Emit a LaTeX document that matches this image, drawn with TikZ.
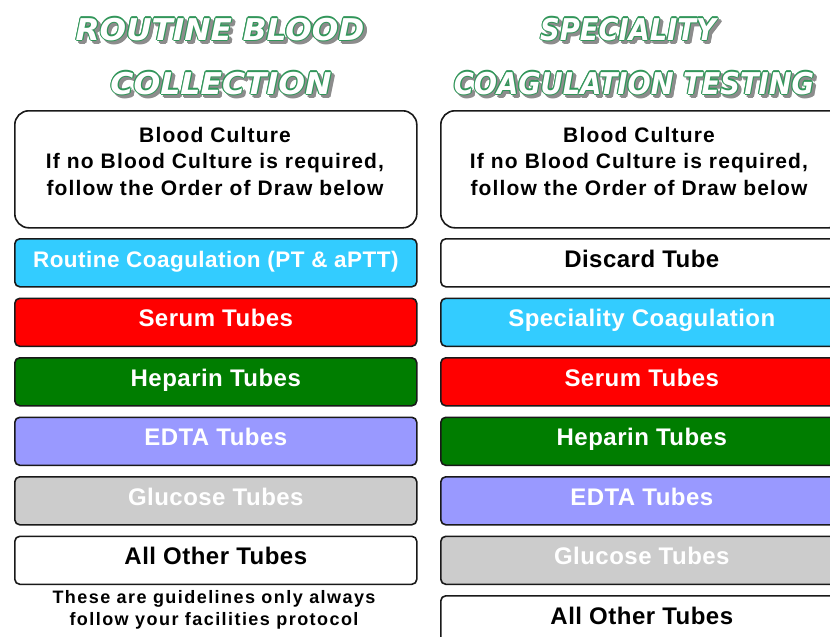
\documentclass[tikz,border=0pt]{standalone}
\usepackage{fontspec}
\usepackage{graphicx}
\usetikzlibrary{calc}
\setmainfont{Liberation Sans}
\newfontfamily\titlefam{DejaVu Sans}
\newfontfamily\tubefam{Liberation Sans}[LetterSpace=2]
\newfontfamily\bcfam{Liberation Sans}[LetterSpace=5.5]
\newfontfamily\notefam{Liberation Sans}[LetterSpace=8]
\definecolor{titlegreen}{RGB}{50,150,90}
\definecolor{shadowc}{RGB}{140,140,140}
\definecolor{ccyan}{RGB}{51,204,255}
\definecolor{cred}{RGB}{255,0,0}
\definecolor{cgreen}{RGB}{0,125,0}
\definecolor{cedta}{RGB}{153,153,255}
\definecolor{cgluc}{RGB}{204,204,204}
\definecolor{boxline}{RGB}{25,25,25}
\tikzset{
  ttl/.style={font=\titlefam\bfseries\itshape\fontsize{30}{36}\selectfont, inner sep=0pt, anchor=base},
  tube/.style={draw=boxline, line width=1.6pt, rounded corners=5pt, minimum width=402pt,
    minimum height=48pt, inner sep=0pt, anchor=north west,
    font=\tubefam\bfseries\fontsize{24}{28}\selectfont, text height=16pt, text depth=7pt},
  bcbox/.style={draw=boxline, line width=1.6pt, rounded corners=14pt, minimum width=402pt,
    minimum height=117pt, inner sep=0pt, anchor=north west, fill=white},
  bctext/.style={font=\bcfam\bfseries\fontsize{21}{26}\selectfont, inner sep=0pt, anchor=base},
  notetext/.style={font=\notefam\bfseries\fontsize{18}{22}\selectfont, inner sep=0pt, anchor=base},
}
\newcommand\mytitle[5]{%
  \foreach \a in {0,45,...,315} \node[ttl,text=shadowc] at ($(#2+3,#3+3)+(\a:1.2pt)$) {\scalebox{#5}[1]{#4}};
  \foreach \a in {0,45,...,315} \node[ttl,text=titlegreen] at ($(#2,#3)+(\a:1.2pt)$) {\scalebox{#5}[1]{#4}};
  \node[ttl,text=white] (#1) at (#2,#3) {\scalebox{#5}[1]{#4}};
}
\begin{document}
\begin{tikzpicture}[x=1pt,y=-1pt]
\useasboundingbox (0,0) rectangle (830,637);
\fill[white] (0,0) rectangle (830,637);
\begin{scope}
\clip (0,0) rectangle (830,637);
% titles
\mytitle{t1}{220}{40}{ROUTINE BLOOD}{1.04}
\mytitle{t2}{221}{94}{COLLECTION}{1.05}
\mytitle{t3}{628}{40}{SPECIALITY}{0.91}
\mytitle{t4}{634}{94}{COAGULATION TESTING}{0.91}
% left column
\node[bcbox] (LB) at (14,110) {};
\node[bctext] (LBt1) at (215,142) {Blood Culture};
\node[bctext] (LBt2) at (215,168.5) {If no Blood Culture is required,};
\node[bctext] (LBt3) at (215,195) {follow the Order of Draw below};
\node[tube, fill=ccyan, text=white, font=\tubefam\bfseries\fontsize{22.5}{27}\selectfont] (L1) at (14,238) {Routine Coagulation (PT \& aPTT)};
\node[tube, fill=cred, text=white] (L2) at (14,297.5) {Serum Tubes};
\node[tube, fill=cgreen, text=white] (L3) at (14,357) {Heparin Tubes};
\node[tube, fill=cedta, text=white] (L4) at (14,416.5) {EDTA Tubes};
\node[tube, fill=cgluc, text=white] (L5) at (14,476) {Glucose Tubes};
\node[tube, fill=white, text=black] (L6) at (14,535.5) {All Other Tubes};
\node[notetext] (N1) at (214,603) {These are guidelines only always};
\node[notetext] (N2) at (214,625) {follow your facilities protocol};
% right column
\node[bcbox] (RB) at (440,110) {};
\node[bctext] (RBt1) at (639,142) {Blood Culture};
\node[bctext] (RBt2) at (639,168.5) {If no Blood Culture is required,};
\node[bctext] (RBt3) at (639,195) {follow the Order of Draw below};
\node[tube, fill=white, text=black] (R1) at (440,238) {Discard Tube};
\node[tube, fill=ccyan, text=white] (R2) at (440,297.5) {Speciality Coagulation};
\node[tube, fill=cred, text=white] (R3) at (440,357) {Serum Tubes};
\node[tube, fill=cgreen, text=white] (R4) at (440,416.5) {Heparin Tubes};
\node[tube, fill=cedta, text=white] (R5) at (440,476) {EDTA Tubes};
\node[tube, fill=cgluc, text=white] (R6) at (440,535.5) {Glucose Tubes};
\node[tube, fill=white, text=black] (R7) at (440,595) {All Other Tubes};
\end{scope}
\end{tikzpicture}
\end{document}
